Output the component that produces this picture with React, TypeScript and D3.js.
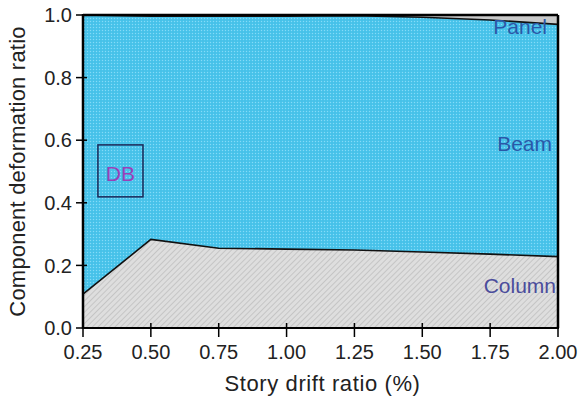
import React from "react";
import * as d3 from "d3";

const drift = [0.25, 0.5, 0.75, 1.0, 1.25, 1.5, 1.75, 2.0];
const column = [0.108, 0.283, 0.255, 0.252, 0.249, 0.243, 0.236, 0.228];
const beam = [0.892, 0.713, 0.741, 0.744, 0.749, 0.75, 0.748, 0.742];
const panel = drift.map((_, i) => 1 - column[i] - beam[i]);
const xTicks = [0.25, 0.5, 0.75, 1.0, 1.25, 1.5, 1.75, 2.0];
const yTicks = [0, 0.2, 0.4, 0.6, 0.8, 1.0];

const W = 582, H = 404;
const m = { left: 83, right: 24, top: 15, bottom: 76 };

export default function App() {
  const x = d3.scaleLinear().domain([0.25, 2.0]).range([m.left, W - m.right]);
  const y = d3.scaleLinear().domain([0, 1]).range([H - m.bottom, m.top]);
  const stackData = drift.map((d, i) => ({ d, column: column[i], beam: beam[i], panel: panel[i] }));
  const stack = d3.stack<any>().keys(["column", "beam", "panel"]);
  const series = stack(stackData);
  const area = d3.area<any>().x((p: any) => x(p.data.d)).y0((p) => y(p[0])).y1((p) => y(p[1]));
  const topLine = d3.line<any>().x((p: any) => x(p.data.d)).y((p) => y(p[1]));
  const fills = ["url(#hatch)", "url(#dots)", "#c9c9c9"];
  const font = "Liberation Sans, Arial, sans-serif";
  return (
    <svg width={W} height={H} style={{ position: "absolute", left: 0, top: 0, background: "#fff" }}>
      <defs>
        <pattern id="dots" width="3" height="3" patternUnits="userSpaceOnUse">
          <rect width="3" height="3" fill="#4cc5ec" />
          <rect x="0" y="0" width="1" height="1" fill="#86daf6" />
          <rect x="1.5" y="1.5" width="1" height="1" fill="#38b5de" />
        </pattern>
        <pattern id="hatch" width="4" height="4" patternUnits="userSpaceOnUse" patternTransform="rotate(-45)">
          <rect width="4" height="4" fill="#dedede" />
          <line x1="0" y1="0" x2="4" y2="0" stroke="#b5b5b5" strokeWidth="1.2" />
        </pattern>
      </defs>
      {series.map((s, i) => (
        <path key={i} d={area(s as any) || ""} fill={fills[i]} />
      ))}
      {series.slice(0, 2).map((s, i) => (
        <path key={"l" + i} d={topLine(s as any) || ""} fill="none" stroke="#111" strokeWidth={1.6} />
      ))}
      <line x1={x(0.25)} x2={x(2.0)} y1={y(1)} y2={y(1)} stroke="#000" strokeWidth={2.5} />
      <line x1={x(2.0)} x2={x(2.0)} y1={y(1)} y2={y(0)} stroke="#000" strokeWidth={2.5} />
      <line x1={x(0.25)} x2={x(0.25)} y1={y(1) - 1} y2={y(0) + 1} stroke="#000" strokeWidth={2.5} />
      <line x1={x(0.25) - 1} x2={x(2.0) + 1} y1={y(0)} y2={y(0)} stroke="#000" strokeWidth={2} />
      {yTicks.map((t) => (
        <g key={"y" + t}>
          <line x1={x(0.25) - 7} x2={x(0.25) + 4} y1={y(t)} y2={y(t)} stroke="#000" strokeWidth={1.5} />
          <text x={x(0.25) - 11} y={y(t)} dy="0.36em" textAnchor="end" fontFamily={font} fontSize={20} fill="#222">
            {t.toFixed(1)}
          </text>
        </g>
      ))}
      {xTicks.map((t) => (
        <g key={"x" + t}>
          <line x1={x(t)} x2={x(t)} y1={y(0) - 5} y2={y(0) + 9} stroke="#000" strokeWidth={1.5} />
          <text x={x(t)} y={y(0) + 31} textAnchor="middle" fontFamily={font} fontSize={20} fill="#222">
            {t.toFixed(2)}
          </text>
        </g>
      ))}
      <text x={(x(0.25) + x(2.0)) / 2 + 2} y={391} textAnchor="middle" fontFamily={font} fontSize={22} letterSpacing={0.6} fill="#222">
        Story drift ratio (%)
      </text>
      <text transform={`translate(25,${(y(0) + y(1)) / 2}) rotate(-90)`} textAnchor="middle" fontFamily={font} fontSize={22} letterSpacing={0.2} fill="#222">
        Component deformation ratio
      </text>
      <text x={x(2.0) - 11} y={y(0.94)} textAnchor="end" fontFamily={font} fontSize={21} fill="#2a58a8">Panel</text>
      <text x={x(2.0) - 6} y={y(0.565)} textAnchor="end" fontFamily={font} fontSize={21} fill="#2a58a8">Beam</text>
      <text x={x(2.0) - 2} y={y(0.112)} textAnchor="end" fontFamily={font} fontSize={21} fill="#4a4c9c">Column</text>
      <rect x={x(0.305)} y={y(0.585)} width={x(0.471) - x(0.305)} height={y(0.419) - y(0.585)} fill="none" stroke="#1c2858" strokeWidth={1.5} />
      <text x={(x(0.305) + x(0.471)) / 2} y={y(0.47)} textAnchor="middle" fontFamily={font} fontSize={21} fill="#9a40b8">DB</text>
    </svg>
  );
}
